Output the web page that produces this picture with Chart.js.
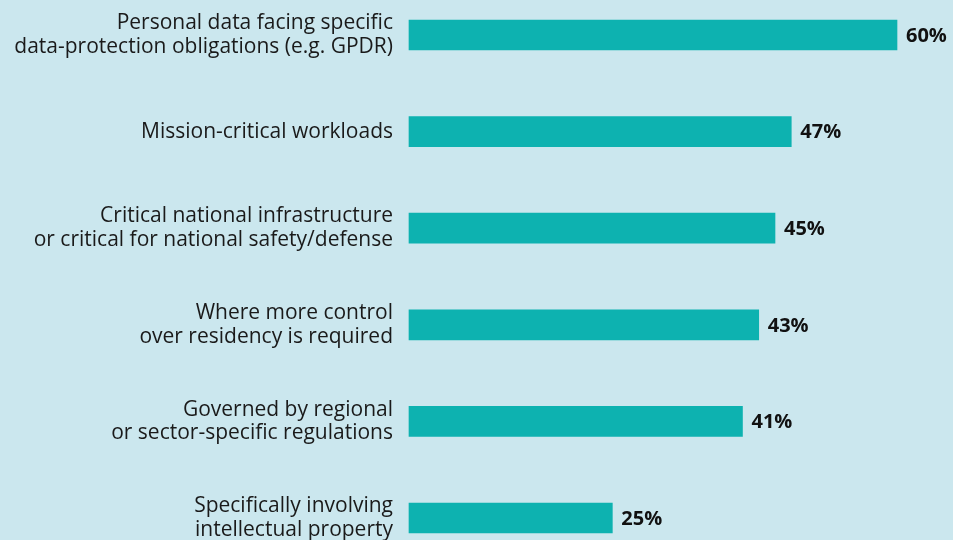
<!DOCTYPE html>
<html>
<head>
<meta charset="utf-8">
<script src="https://cdn.jsdelivr.net/npm/chart.js@4"></script>
<style>
  html, body { margin: 0; padding: 0; background: #cbe7ee; }
  #wrap { width: 953px; height: 540px; position: relative; }
</style>
</head>
<body>
<div id="wrap"><canvas id="chart"></canvas></div>
<script>
const categories = [
    ['Personal data facing specific', 'data-protection obligations (e.g. GPDR)'],
    'Mission-critical workloads',
    ['Critical national infrastructure', 'or critical for national safety/defense'],
    ['Where more control', 'over residency is required'],
    ['Governed by regional', 'or sector-specific regulations'],
    ['Specifically involving', 'intellectual property']
];
const shares = [60, 47, 45, 43, 41, 25];

const fontFamily = "'Open Sans', 'Noto Sans', sans-serif";

// Draw the percentage after each bar
const valueLabels = {
    id: 'valueLabels',
    afterDatasetsDraw(chart) {
        const ctx = chart.ctx;
        const meta = chart.getDatasetMeta(0);
        ctx.save();
        ctx.font = `bold 20px ${fontFamily}`;
        ctx.fillStyle = '#111';
        ctx.textAlign = 'left';
        ctx.textBaseline = 'middle';
        meta.data.forEach((bar, i) => {
            ctx.fillText(shares[i] + '%', bar.x + 9, bar.y + 1);
        });
        ctx.restore();
    }
};

new Chart(document.getElementById('chart'), {
    type: 'bar',
    data: {
        labels: categories,
        datasets: [{
            data: shares,
            backgroundColor: '#0db2b0',
            barThickness: 30,
            clip: false
        }]
    },
    options: {
        indexAxis: 'y',
        responsive: true,
        maintainAspectRatio: false,
        animation: false,
        layout: { padding: { top: 35, bottom: 22, right: 56, left: 0 } },
        plugins: { legend: { display: false }, tooltip: { enabled: false } },
        scales: {
            x: {
                min: 0,
                max: 60,
                display: false
            },
            y: {
                offset: false,
                grid: { display: false },
                border: { display: false },
                afterFit(scale) {
                    scale.width = 409;
                    scale.paddingTop = 0;
                    scale.paddingBottom = 0;
                },
                ticks: {
                    padding: 8,
                    color: '#1a1a1a',
                    font: { family: fontFamily, size: 21, lineHeight: 1.12 },
                    crossAlign: 'near'
                }
            }
        }
    },
    plugins: [valueLabels]
});
</script>
</body>
</html>
